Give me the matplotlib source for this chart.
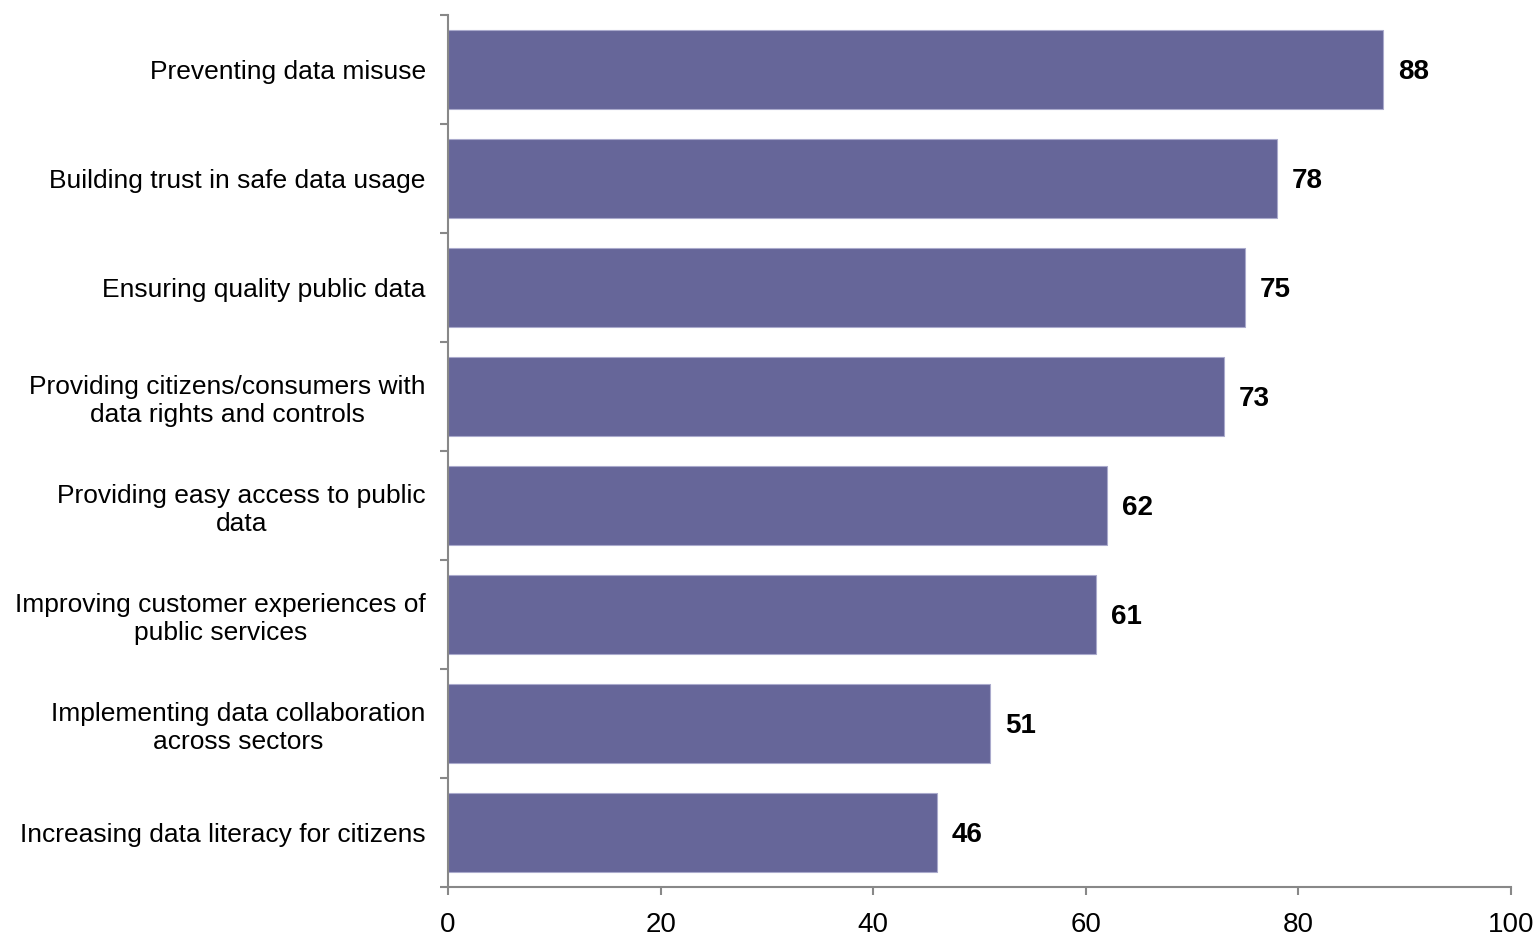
import matplotlib.pyplot as plt
import numpy as np

categories = [
    "Preventing data misuse",
    "Building trust in safe data usage",
    "Ensuring quality public data",
    "Providing citizens/consumers with\ndata rights and controls",
    "Providing easy access to public\ndata",
    "Improving customer experiences of\npublic services",
    "Implementing data collaboration\nacross sectors",
    "Increasing data literacy for citizens",
]
values = [88, 78, 75, 73, 62, 61, 51, 46]
xticks = [0, 20, 40, 60, 80, 100]


def main():
    plt.rcParams['font.family'] = ['Liberation Sans', 'DejaVu Sans']
    fig = plt.figure(figsize=(15.4, 9.36), dpi=100)
    ax = fig.add_axes([0.2909, 0.0524, 0.6903, 0.9316])

    pos = np.arange(len(categories))
    ax.barh(pos, values, height=0.72, color="#666699", edgecolor="#aaaacc", linewidth=0.8)
    for p, v in zip(pos, values):
        ax.text(v + 1.4, p + 0.02, str(v), va="center", ha="left", fontsize=20, fontweight="bold")

    ax.set_xlim(0, 100)
    ax.set_ylim(len(categories) - 0.5, -0.5)
    ax.set_xticks(xticks)
    ax.set_xticklabels([str(t) for t in xticks], fontsize=20)
    ax.set_yticks(np.arange(-0.5, len(categories), 1.0))
    ax.set_yticklabels([])
    ax.set_yticks(pos, minor=True)
    ax.set_yticklabels(categories, minor=True, fontsize=19, ha="right", multialignment="center")
    ax.tick_params(axis="y", which="minor", length=0, pad=16)
    ax.tick_params(axis="y", which="major", length=6, width=1.5, color="#888888")
    ax.tick_params(axis="x", length=6, width=1.5, color="#888888", pad=12)

    for s in ["top", "right"]:
        ax.spines[s].set_visible(False)
    for s in ["left", "bottom"]:
        ax.spines[s].set_color("#888888")
        ax.spines[s].set_linewidth(1.5)

    fig.savefig("out.png", dpi=100)


if __name__ == "__main__":
    main()
